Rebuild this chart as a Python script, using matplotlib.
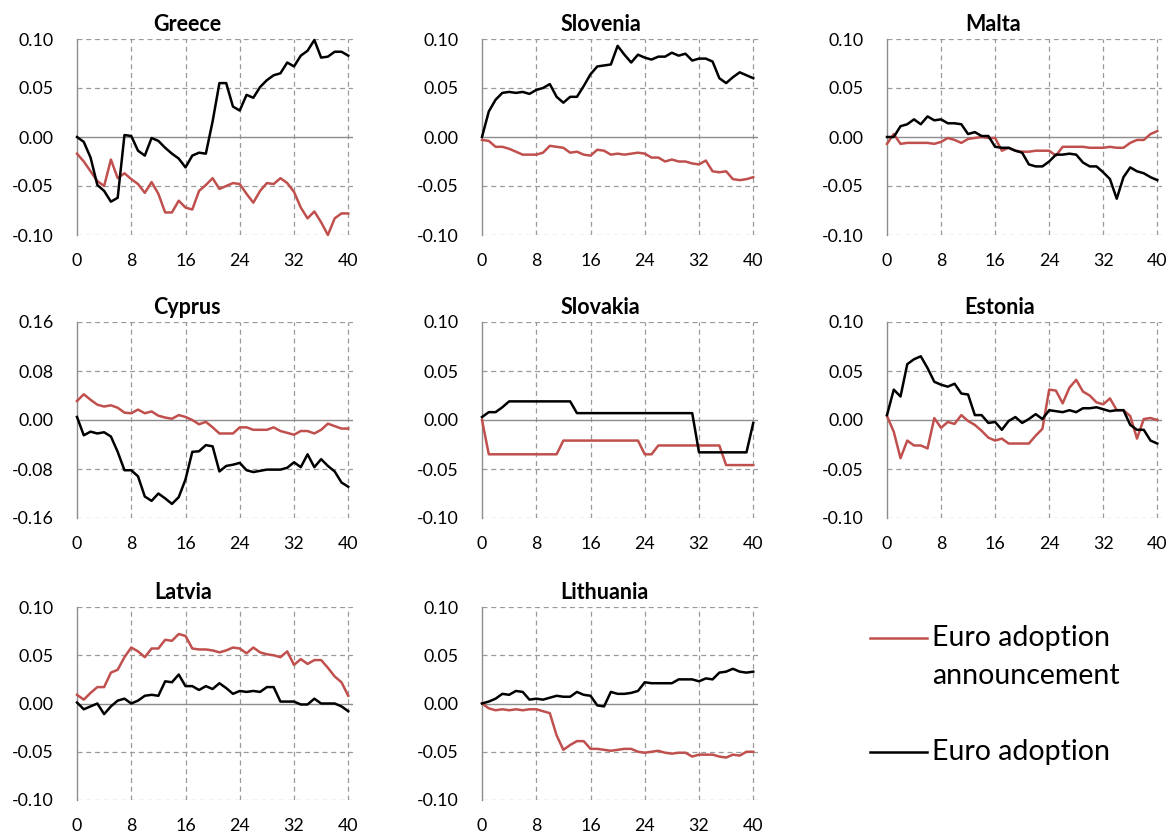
import matplotlib
matplotlib.use("Agg")
import matplotlib.pyplot as plt
from matplotlib.ticker import FuncFormatter

plt.rcParams["font.family"] = ["Lato", "DejaVu Sans"]
plt.rcParams["axes.unicode_minus"] = False

OUTPUT_FILE = "out.png"

quarters = list(range(41))
x_ticks = [0, 8, 16, 24, 32, 40]

countries = ["Greece", "Slovenia", "Malta", "Cyprus", "Slovakia", "Estonia",
             "Latvia", "Lithuania"]

# red: euro adoption announcement, black: euro adoption
greece_ann = [-0.017, -0.025, -0.035, -0.045, -0.050, -0.023, -0.042, -0.037, -0.043, -0.048,
              -0.057, -0.046, -0.058, -0.077, -0.077, -0.065, -0.072, -0.074, -0.055, -0.049,
              -0.042, -0.053, -0.050, -0.047, -0.048, -0.058, -0.067, -0.055, -0.047, -0.048,
              -0.042, -0.047, -0.056, -0.072, -0.083, -0.076, -0.087, -0.100, -0.083, -0.078,
              -0.078]
greece_adopt = [0.000, -0.005, -0.021, -0.049, -0.055, -0.066, -0.062, 0.002, 0.001, -0.014,
                -0.019, -0.001, -0.004, -0.011, -0.017, -0.022, -0.031, -0.019, -0.016, -0.017,
                0.016, 0.055, 0.055, 0.031, 0.027, 0.043, 0.040, 0.051, 0.058, 0.063,
                0.065, 0.076, 0.072, 0.083, 0.088, 0.099, 0.081, 0.082, 0.087, 0.087,
                0.083]

slovenia_ann = [-0.003, -0.004, -0.010, -0.010, -0.012, -0.015, -0.018, -0.018, -0.018, -0.016,
                -0.009, -0.010, -0.011, -0.016, -0.015, -0.018, -0.019, -0.013, -0.014, -0.018,
                -0.017, -0.018, -0.017, -0.016, -0.017, -0.021, -0.021, -0.025, -0.023, -0.025,
                -0.025, -0.027, -0.028, -0.024, -0.035, -0.036, -0.035, -0.043, -0.044, -0.043,
                -0.041]
slovenia_adopt = [0.000, 0.026, 0.038, 0.045, 0.046, 0.045, 0.046, 0.044, 0.048, 0.050,
                  0.054, 0.041, 0.035, 0.041, 0.041, 0.052, 0.064, 0.072, 0.073, 0.074,
                  0.093, 0.084, 0.076, 0.084, 0.081, 0.079, 0.082, 0.082, 0.086, 0.083,
                  0.085, 0.078, 0.080, 0.080, 0.077, 0.060, 0.055, 0.061, 0.066, 0.063,
                  0.060]

malta_ann = [-0.007, 0.003, -0.007, -0.006, -0.006, -0.006, -0.006, -0.007, -0.005, -0.001,
             -0.003, -0.006, -0.002, -0.001, 0.000, -0.001, -0.001, -0.014, -0.011, -0.014,
             -0.015, -0.015, -0.014, -0.014, -0.014, -0.019, -0.010, -0.010, -0.010, -0.010,
             -0.011, -0.011, -0.011, -0.010, -0.011, -0.011, -0.006, -0.003, -0.003, 0.003,
             0.006]
malta_adopt = [0.000, 0.000, 0.011, 0.013, 0.018, 0.013, 0.021, 0.017, 0.018, 0.014,
               0.014, 0.013, 0.003, 0.005, 0.001, 0.001, -0.010, -0.011, -0.011, -0.014,
               -0.016, -0.028, -0.030, -0.030, -0.025, -0.018, -0.018, -0.017, -0.018, -0.026,
               -0.030, -0.030, -0.036, -0.043, -0.063, -0.041, -0.031, -0.035, -0.037, -0.041,
               -0.044]

cyprus_ann = [0.031, 0.042, 0.033, 0.025, 0.022, 0.024, 0.020, 0.012, 0.011, 0.017,
              0.011, 0.014, 0.007, 0.004, 0.002, 0.008, 0.005, 0.000, -0.007, -0.003,
              -0.012, -0.022, -0.022, -0.022, -0.012, -0.012, -0.016, -0.016, -0.016, -0.012,
              -0.018, -0.021, -0.024, -0.018, -0.018, -0.022, -0.016, -0.006, -0.010, -0.014,
              -0.014]
cyprus_adopt = [0.005, -0.025, -0.019, -0.022, -0.020, -0.027, -0.052, -0.082, -0.082, -0.092,
                -0.125, -0.132, -0.120, -0.128, -0.137, -0.126, -0.097, -0.052, -0.051, -0.041,
                -0.043, -0.084, -0.075, -0.073, -0.070, -0.082, -0.085, -0.083, -0.081, -0.081,
                -0.081, -0.078, -0.069, -0.077, -0.056, -0.077, -0.064, -0.075, -0.084, -0.102,
                -0.109]

slovakia_ann = [0.000, -0.035, -0.035, -0.035, -0.035, -0.035, -0.035, -0.035, -0.035, -0.035,
                -0.035, -0.035, -0.021, -0.021, -0.021, -0.021, -0.021, -0.021, -0.021, -0.021,
                -0.021, -0.021, -0.021, -0.021, -0.035, -0.035, -0.026, -0.026, -0.026, -0.026,
                -0.026, -0.026, -0.026, -0.026, -0.026, -0.026, -0.046, -0.046, -0.046, -0.046,
                -0.046]
slovakia_adopt = [0.003, 0.008, 0.008, 0.013, 0.019, 0.019, 0.019, 0.019, 0.019, 0.019,
                  0.019, 0.019, 0.019, 0.019, 0.007, 0.007, 0.007, 0.007, 0.007, 0.007,
                  0.007, 0.007, 0.007, 0.007, 0.007, 0.007, 0.007, 0.007, 0.007, 0.007,
                  0.007, 0.007, -0.033, -0.033, -0.033, -0.033, -0.033, -0.033, -0.033, -0.033,
                  -0.003]

estonia_ann = [0.004, -0.012, -0.039, -0.021, -0.026, -0.026, -0.029, 0.002, -0.008, -0.002,
               -0.004, 0.005, -0.001, -0.005, -0.011, -0.018, -0.021, -0.019, -0.024, -0.024,
               -0.024, -0.024, -0.016, -0.009, 0.031, 0.030, 0.017, 0.033, 0.041, 0.029,
               0.025, 0.018, 0.016, 0.022, 0.010, 0.010, 0.004, -0.019, 0.001, 0.002,
               0.000]
estonia_adopt = [0.005, 0.031, 0.024, 0.057, 0.062, 0.065, 0.053, 0.039, 0.036, 0.034,
                 0.037, 0.027, 0.026, 0.005, 0.005, -0.003, -0.002, -0.010, -0.001, 0.003,
                 -0.003, 0.001, 0.006, 0.001, 0.010, 0.009, 0.008, 0.010, 0.008, 0.012,
                 0.012, 0.013, 0.011, 0.009, 0.010, 0.010, -0.005, -0.010, -0.010, -0.021,
                 -0.024]

latvia_ann = [0.009, 0.004, 0.011, 0.017, 0.017, 0.032, 0.035, 0.048, 0.058, 0.054,
              0.048, 0.057, 0.057, 0.066, 0.065, 0.072, 0.070, 0.057, 0.056, 0.056,
              0.055, 0.053, 0.055, 0.058, 0.057, 0.052, 0.058, 0.053, 0.051, 0.050,
              0.048, 0.054, 0.040, 0.046, 0.041, 0.045, 0.045, 0.037, 0.028, 0.022,
              0.008]
latvia_adopt = [0.001, -0.006, -0.003, 0.000, -0.011, -0.003, 0.003, 0.005, 0.000, 0.003,
                0.008, 0.009, 0.008, 0.023, 0.022, 0.030, 0.018, 0.018, 0.014, 0.018,
                0.015, 0.021, 0.016, 0.010, 0.013, 0.012, 0.013, 0.012, 0.017, 0.017,
                0.002, 0.002, 0.002, -0.001, -0.001, 0.005, 0.000, 0.000, 0.000, -0.003,
                -0.008]

lithuania_ann = [0.000, -0.005, -0.007, -0.006, -0.007, -0.006, -0.007, -0.006, -0.006, -0.008,
                 -0.010, -0.033, -0.048, -0.043, -0.039, -0.039, -0.047, -0.047, -0.048, -0.049,
                 -0.048, -0.047, -0.047, -0.050, -0.051, -0.050, -0.049, -0.051, -0.052, -0.051,
                 -0.051, -0.055, -0.053, -0.053, -0.053, -0.055, -0.056, -0.053, -0.054, -0.050,
                 -0.050]
lithuania_adopt = [0.000, 0.002, 0.005, 0.010, 0.009, 0.013, 0.012, 0.004, 0.005, 0.004,
                   0.006, 0.008, 0.007, 0.007, 0.012, 0.009, 0.008, -0.002, -0.003, 0.012,
                   0.010, 0.010, 0.011, 0.013, 0.022, 0.021, 0.021, 0.021, 0.021, 0.025,
                   0.025, 0.025, 0.023, 0.026, 0.025, 0.032, 0.033, 0.036, 0.033, 0.032,
                   0.033]

announcement = [greece_ann, slovenia_ann, malta_ann, cyprus_ann, slovakia_ann, estonia_ann,
                latvia_ann, lithuania_ann]
adoption = [greece_adopt, slovenia_adopt, malta_adopt, cyprus_adopt, slovakia_adopt,
            estonia_adopt, latvia_adopt, lithuania_adopt]

y_ticks_default = [-0.10, -0.05, 0.00, 0.05, 0.10]
y_ticks_cyprus = [-0.16, -0.08, 0.00, 0.08, 0.16]

RED = "#C0504D"
GRID = "#9A9A9A"

W, H = 1174, 834
fig = plt.figure(figsize=(W / 100, H / 100), dpi=100)

# axes boxes in pixels: left, top, right, bottom
col_px = [(77, 353), (482, 758), (887, 1162)]
row_px = [(39, 235), (322, 518), (607, 800)]
title_x = [0.40, 0.43, 0.385, 0.40, 0.43, 0.41, 0.385, 0.445]

for i, name in enumerate(countries):
    r, c = divmod(i, 3)
    l, rt = col_px[c]
    t, b = row_px[r]
    ax = fig.add_axes([l / W, 1 - b / H, (rt - l) / W, (b - t) / H])

    yt = y_ticks_cyprus if name == "Cyprus" else y_ticks_default
    ax.set_xlim(0, 40.7)
    ax.set_ylim(yt[0], yt[-1])

    for v in x_ticks[1:]:
        ax.axvline(v, color=GRID, lw=0.9, ls=(0, (4, 3)), zorder=1)
    for v in yt:
        if v == 0:
            ax.axhline(0, color="#8C8C8C", lw=1.0, zorder=1)
        else:
            ax.axhline(v, color=GRID, lw=0.9, ls=(0, (4, 3)), zorder=1)

    ax.plot(quarters, announcement[i], color=RED, lw=1.8, zorder=3, clip_on=False)
    ax.plot(quarters, adoption[i], color="black", lw=1.8, zorder=4, clip_on=False)

    for s in ["top", "right", "bottom"]:
        ax.spines[s].set_visible(False)
    ax.spines["left"].set_color("#8C8C8C")
    ax.spines["left"].set_linewidth(1.0)

    ax.set_xticks(x_ticks)
    ax.set_yticks(yt)
    ax.yaxis.set_major_formatter(FuncFormatter(lambda v, p: f"{v:.2f}"))
    ax.tick_params(axis="both", length=0, labelsize=12.8, colors="black")
    ax.tick_params(axis="y", pad=17)
    ax.tick_params(axis="x", pad=13)

    ax.set_title(name, fontsize=15.5, fontweight="bold", x=title_x[i], pad=6)

# legend drawn in its own blank axes
lax = fig.add_axes([0, 0, 1, 1])
lax.set_xlim(0, W)
lax.set_ylim(H, 0)
lax.axis("off")
lax.plot([870, 927], [638, 638], color=RED, lw=1.8)
lax.plot([870, 927], [752, 752], color="black", lw=1.8)
lax.text(932, 638, "Euro adoption", fontsize=20.5, va="center", ha="left")
lax.text(932, 676, "announcement", fontsize=20.5, va="center", ha="left")
lax.text(932, 752, "Euro adoption", fontsize=20.5, va="center", ha="left")

plt.savefig(OUTPUT_FILE, dpi=100)
